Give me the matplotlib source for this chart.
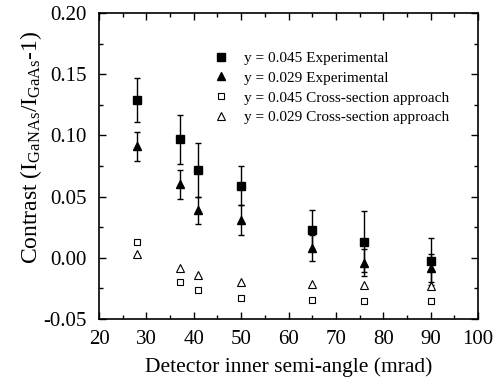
import matplotlib
matplotlib.use("Agg")
import matplotlib.pyplot as plt
from matplotlib.ticker import MultipleLocator
from matplotlib.lines import Line2D

plt.rcParams['font.family'] = ['Liberation Serif', 'DejaVu Serif']
plt.rcParams['mathtext.fontset'] = 'custom'
plt.rcParams['mathtext.rm'] = 'Liberation Serif'
plt.rcParams['mathtext.it'] = 'Liberation Serif:italic'

angles = [28, 37, 41, 50, 65, 76, 90]
exp_045 = [0.129, 0.097, 0.072, 0.059, 0.023, 0.013, -0.003]
err_045 = [0.018, 0.020, 0.022, 0.016, 0.016, 0.025, 0.019]
exp_029 = [0.091, 0.060, 0.039, 0.031, 0.008, -0.004, -0.008]
err_029 = [0.012, 0.012, 0.011, 0.012, 0.011, 0.011, 0.0115]
cs_045 = [0.013, -0.0195, -0.026, -0.0325, -0.0345, -0.035, -0.0355]
cs_029 = [0.003, -0.008, -0.014, -0.020, -0.0217, -0.022, -0.023]

labels = ['y = 0.045 Experimental', 'y = 0.029 Experimental',
          'y = 0.045 Cross-section approach', 'y = 0.029 Cross-section approach']

fig = plt.figure(figsize=(5.03, 3.85), dpi=100)
ax = fig.add_axes([99/503, 1-319/385, 379/503, 306/385])

ax.errorbar(angles, exp_045, yerr=err_045, fmt='s', color='black', ms=5.2,
            capsize=2.2, elinewidth=1, capthick=1)
ax.errorbar(angles, exp_029, yerr=err_029, fmt='^', color='black', ms=6,
            capsize=2.2, elinewidth=1, capthick=1)
ax.plot(angles, cs_045, 's', mfc='white', mec='black', mew=0.8, ms=4.5,
        linestyle='none')
ax.plot(angles, cs_029, '^', mfc='white', mec='black', mew=0.8, ms=5.2,
        linestyle='none')

handles = [
    Line2D([], [], marker='s', color='black', ls='none', ms=5.2),
    Line2D([], [], marker='^', color='black', ls='none', ms=6),
    Line2D([], [], marker='s', mfc='white', mec='black', mew=0.8, ls='none', ms=4.5),
    Line2D([], [], marker='^', mfc='white', mec='black', mew=0.8, ls='none', ms=5.2),
]

ax.set_xlim(20, 100)
ax.set_ylim(-0.05, 0.20)
ax.xaxis.set_major_locator(MultipleLocator(10))
ax.xaxis.set_minor_locator(MultipleLocator(5))
ax.yaxis.set_major_locator(MultipleLocator(0.05))
ax.yaxis.set_minor_locator(MultipleLocator(0.025))
ax.yaxis.set_major_formatter(matplotlib.ticker.FormatStrFormatter('%.2f'))
ax.tick_params(which='both', direction='in', top=True, right=True, labelsize=15)
ax.tick_params(which='major', length=5, width=1)
ax.tick_params(which='minor', length=3, width=1)
ax.tick_params(axis='x', which='major', pad=8)
ax.tick_params(axis='y', which='major', pad=9)
for s in ax.spines.values():
    s.set_linewidth(1.2)

ax.set_xlabel('Detector inner semi-angle (mrad)', fontsize=15.5, labelpad=6)
ax.set_ylabel(r'Contrast (I$_{\mathrm{GaNAs}}$/I$_{\mathrm{GaAs}}$-1)', fontsize=17)
ax.yaxis.set_label_coords(-0.145, 0.56)

leg = ax.legend(handles=handles, labels=labels, loc='upper left',
                bbox_to_anchor=(0.285, 0.895), frameon=False, fontsize=11,
                handlelength=1.0, handletextpad=1.0, labelspacing=0.4,
                borderaxespad=0)

fig.savefig('out.png', dpi=100)
